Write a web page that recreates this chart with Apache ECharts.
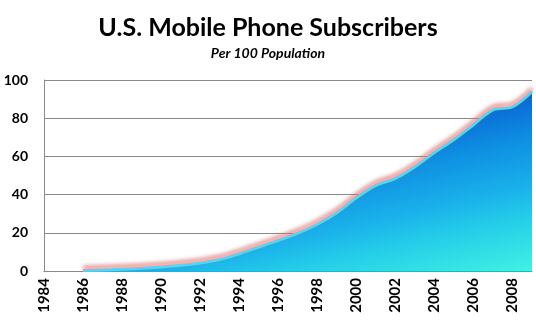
<!DOCTYPE html>
<html>
<head>
<meta charset="utf-8">
<script src="https://cdn.jsdelivr.net/npm/echarts@6/dist/echarts.min.js"></script>
<style>
  html, body { margin: 0; padding: 0; background: #fff; }
  #chart { width: 536px; height: 322px; }
</style>
</head>
<body>
<div id="chart"></div>
<script>
// Mobile subscriptions per 100 people, United States
const years = [1986, 1987, 1988, 1989, 1990, 1991, 1992, 1993, 1994, 1995, 1996, 1997,
               1998, 1999, 2000, 2001, 2002, 2003, 2004, 2005, 2006, 2007, 2008, 2009];
const subscribers = [0.3, 0.5, 0.9, 1.4, 2.1, 3.0, 4.2, 6.0, 9.0, 12.5, 16.0, 19.8,
                     24.5, 30.5, 38.3, 44.8, 48.5, 54.6, 62.0, 68.8, 76.6, 84.4, 86.0, 94.0];
const yTicks = [0, 20, 40, 60, 80, 100];

const chart = echarts.init(document.getElementById('chart'));
const labelFont = 'Lato, "Open Sans", sans-serif';

chart.setOption({
  animation: false,
  title: {
    text: 'U.S. Mobile Phone Subscribers',
    subtext: 'Per 100 Population',
    left: 'center',
    top: 10,
    itemGap: 6,
    textStyle: { fontFamily: labelFont, fontWeight: 'bold', fontSize: 25, color: '#000' },
    subtextStyle: { fontFamily: labelFont, fontWeight: 'bold', fontStyle: 'italic', fontSize: 14, color: '#000' }
  },
  grid: { left: 44, right: 4, top: 80, bottom: 51 },
  xAxis: {
    type: 'value',
    min: 1984,
    max: 2009,
    interval: 2,
    axisLine: { show: true, lineStyle: { color: '#8a8a8a' } },
    axisTick: { show: false },
    splitLine: { show: false },
    axisLabel: {
      rotate: 90,
      margin: 7,
      fontFamily: labelFont,
      fontWeight: 'bold',
      fontSize: 15,
      color: '#000',
      formatter: v => (v % 2 === 0 ? String(v) : '')
    }
  },
  yAxis: {
    type: 'value',
    min: yTicks[0],
    max: yTicks[yTicks.length - 1],
    interval: 20,
    axisLine: { show: true, lineStyle: { color: '#8a8a8a' } },
    axisTick: { show: false },
    splitLine: { show: true, lineStyle: { color: '#8a8a8a', width: 1 } },
    axisLabel: {
      margin: 16,
      fontFamily: labelFont,
      fontWeight: 'bold',
      fontSize: 14,
      color: '#000'
    }
  },
  series: [{
    type: 'line',
    data: years.map((y, i) => [y, subscribers[i]]),
    smooth: 0.35,
    symbol: 'none',
    lineStyle: {
      color: '#52d6f8',
      width: 3,
      shadowColor: 'rgba(228, 100, 100, 1)',
      shadowBlur: 4,
      shadowOffsetY: -3
    },
    areaStyle: {
      opacity: 1,
      // brightest at the lower right, deepening towards the top
      color: new echarts.graphic.LinearGradient(1, 1, 0.91, 0, [
        { offset: 0, color: '#40f2e2' },
        { offset: 0.3, color: '#24cce8' },
        { offset: 0.45, color: '#1ab2ea' },
        { offset: 0.7, color: '#0e90e2' },
        { offset: 0.95, color: '#0866d4' },
        { offset: 1, color: '#0862d2' }
      ])
    }
  }]
});
</script>
</body>
</html>
